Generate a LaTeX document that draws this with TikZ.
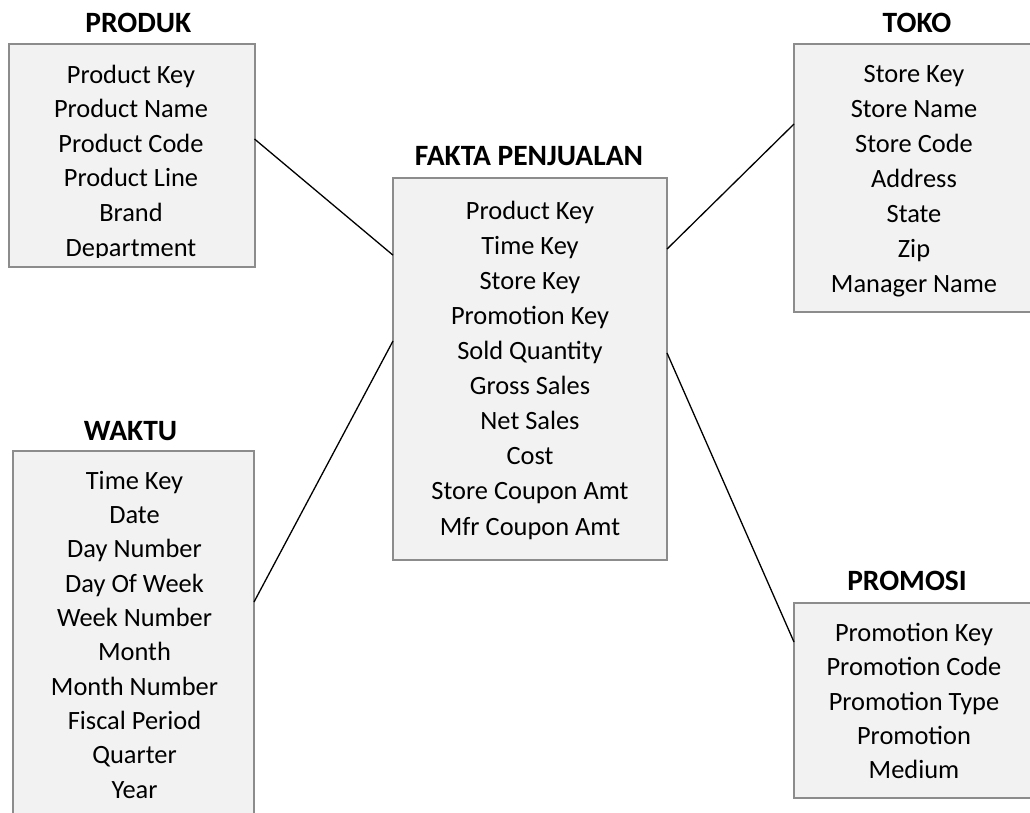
\documentclass[tikz,border=0pt]{standalone}
\usepackage{fontspec}
\setmainfont{Carlito}
\usetikzlibrary{calc}
\definecolor{boxfill}{HTML}{F2F2F2}
\definecolor{boxline}{HTML}{8C8C8C}
\begin{document}
\begin{tikzpicture}[x=1pt,y=-1pt,
  tbl/.style={fill=boxfill, draw=boxline, line width=2pt, inner sep=0pt, outer sep=0pt},
  body/.style={font=\fontsize{26.4}{30}\selectfont, anchor=base, inner sep=0pt},
  ttl/.style={font=\fontsize{29.5}{33}\selectfont\bfseries, anchor=base, inner sep=0pt},
  link/.style={line width=1.3pt, black}]
\useasboundingbox (0,0) rectangle (1030,812);
\clip (0,0) rectangle (1030,812);
% boxes
\node[tbl, minimum width=246pt, minimum height=223pt] (produk) at (131.5,155.5) {};
\node[tbl, minimum width=274pt, minimum height=382pt] (fakta) at (530,369) {};
\node[tbl, minimum width=240pt, minimum height=268pt] (toko) at (914,178) {};
\node[tbl, minimum width=241pt, minimum height=400pt] (waktu) at (133.5,651) {};
\node[tbl, minimum width=240pt, minimum height=195pt] (promosi) at (914,700.5) {};
% titles
\node[ttl] (t-produk) at (138.3,32.5) {PRODUK};
\node[ttl] (t-fakta) at (529,165) {FAKTA PENJUALAN};
\node[ttl] (t-toko) at (917,32.3) {TOKO};
\node[ttl] (t-waktu) at (130.5,440) {WAKTU};
\node[ttl] (t-promosi) at (907,590.5) {PROMOSI};
% body text
\begin{scope}
\clip (0,44) rectangle (260,257.5);
\foreach \t [count=\i] in {Product Key, Product Name, Product Code, Product Line, Brand, Department}
  \node[body] (produk-\i) at (131,{83+34.6*(\i-1)}) {\t};
\end{scope}
\foreach \t [count=\i] in {Product Key, Time Key, Store Key, Promotion Key, Sold Quantity, Gross Sales, Net Sales, Cost, Store Coupon Amt, Mfr Coupon Amt}
  \node[body] (fakta-\i) at (530,{219.5+35.06*(\i-1)}) {\t};
\foreach \t [count=\i] in {Store Key, Store Name, Store Code, Address, State, Zip, Manager Name}
  \node[body] (toko-\i) at (914,{82.5+35*(\i-1)}) {\t};
\foreach \t [count=\i] in {Time Key, Date, Day Number, Day Of Week, Week Number, Month, Month Number, Fiscal Period, Quarter, Year}
  \node[body] (waktu-\i) at (134.5,{489.3+34.3*(\i-1)}) {\t};
\foreach \t [count=\i] in {Promotion Key, Promotion Code, Promotion Type, Promotion, Medium}
  \node[body] (promosi-\i) at (914,{641.7+34.15*(\i-1)}) {\t};
% connectors
\draw[link] ($(produk.north east)!0.426!(produk.south east)$) -- ($(fakta.north west)!0.202!(fakta.south west)$);
\draw[link] ($(fakta.north east)!0.186!(fakta.south east)$) -- ($(toko.north west)!0.2985!(toko.south west)$);
\draw[link] ($(waktu.north east)!0.3775!(waktu.south east)$) -- ($(fakta.north west)!0.4267!(fakta.south west)$);
\draw[link] ($(fakta.north east)!0.458!(fakta.south east)$) -- ($(promosi.north west)!0.2!(promosi.south west)$);
\end{tikzpicture}
\end{document}
